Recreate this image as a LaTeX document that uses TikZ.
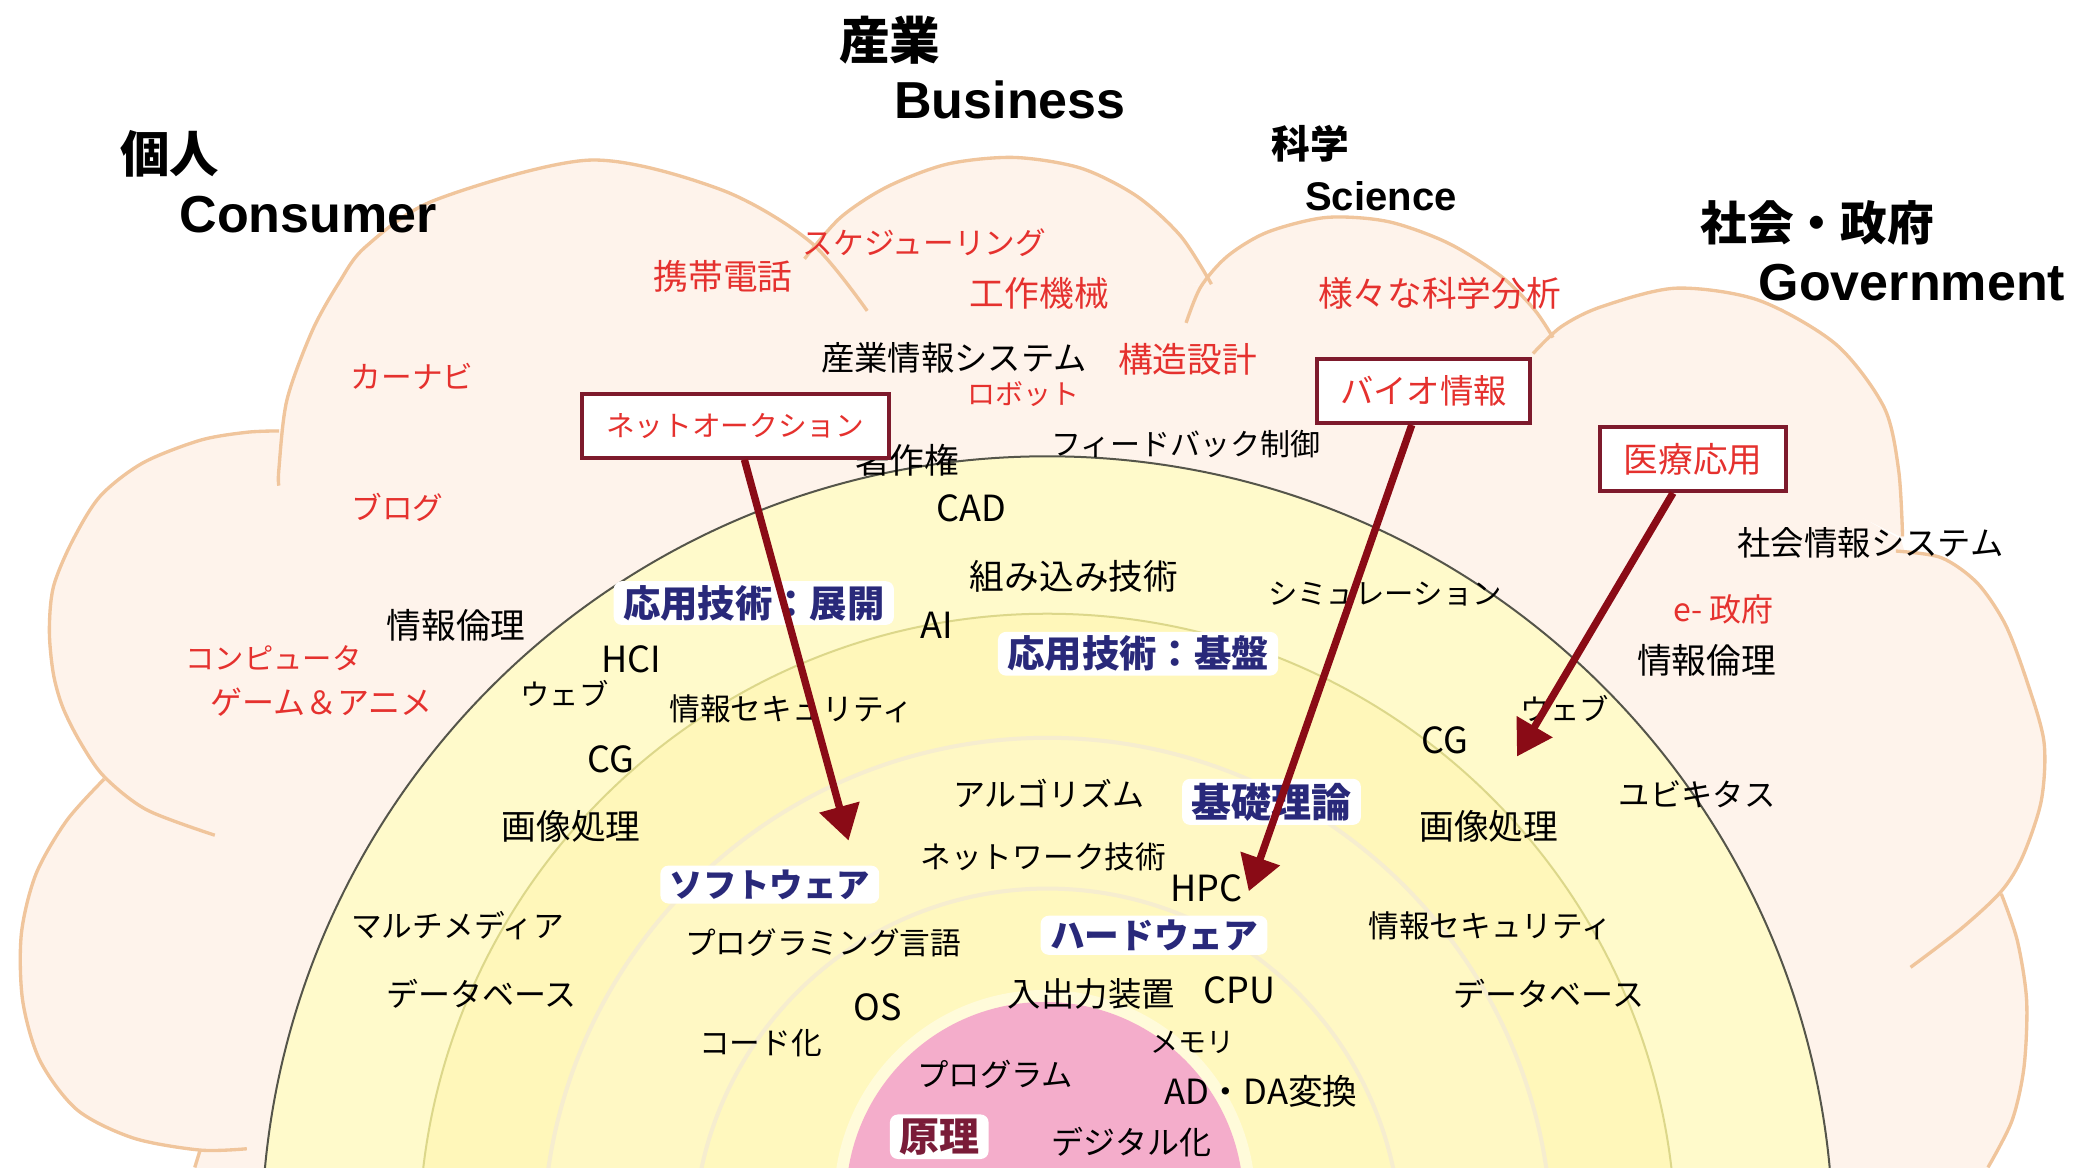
\documentclass[tikz,border=0pt]{standalone}
\usepackage{fontspec}
\setmainfont{Noto Sans CJK JP}
\newfontfamily\jp{Noto Sans CJK JP}
\newfontfamily\en{Liberation Sans}
\usetikzlibrary{arrows.meta}
\definecolor{cloudfill}{HTML}{FEF3EB}
\definecolor{cloudline}{HTML}{F0C59C}
\definecolor{ringA}{HTML}{FFFACB}
\definecolor{ringB}{HTML}{FFF7BA}
\definecolor{ringC}{HTML}{FFF8C4}
\definecolor{ringD}{HTML}{FFF8BE}
\definecolor{ringline}{HTML}{55554A}
\definecolor{ringBline}{HTML}{DCD78A}
\definecolor{ringCline}{HTML}{F6EDCF}
\definecolor{halo}{HTML}{FFFBDA}
\definecolor{pinkc}{HTML}{F4ADCB}
\definecolor{redtxt}{HTML}{E5312E}
\definecolor{navy}{HTML}{29297A}
\definecolor{boxline}{HTML}{7E1A2C}
\definecolor{arrowc}{HTML}{8A0B16}
\definecolor{genri}{HTML}{7A1C38}
\newcommand{\fsz}[1]{\fontsize{#1}{#1}\selectfont}
\begin{document}
\begin{tikzpicture}[x=1pt,y=-1pt,
  every node/.style={inner sep=0pt},
  blk/.style={text=black, font=\jp\fsz{#1}}, blk/.default=24,
  redl/.style={text=redtxt, font=\jp\fsz{#1}}, redl/.default=24,
  bluel/.style={text=navy, font=\jp\bfseries\fsz{#1}, fill=white, rounded corners=6pt, inner xsep=7pt, inner ysep=3pt},
  boxl/.style={draw=boxline, line width=3pt, fill=white, text=redtxt, font=\jp\fsz{#1}, minimum height=48pt},
  ttljp/.style={text=black, font=\jp\bfseries\fsz{#1}},
  ttlen/.style={text=black, font=\en\bfseries\fsz{#1}},
  cloudedge/.style={draw=cloudline, line width=2.5pt},
  cloudpart/.style={fill=cloudfill, draw=cloudfill, line width=2pt, line join=round},
  arr/.style={arrowc, line width=5.5pt, -{Triangle[length=26pt,width=30pt]}}
]
\useasboundingbox (0,0) rectangle (1568,875);
\clip (0,0) rectangle (1568,875);
\fill[white] (0,0) rectangle (1568,875);

% ---- cloud fill ----
\filldraw[cloudpart] (146,875) -- (150,862) -- (78,584) -- (209,323) -- (612,190) -- (905,215) -- (1157,255) -- (1424,405) -- (1500,670) -- (1490,875) -- cycle;
\filldraw[cloudpart] plot[smooth] coordinates {(209,364) (209,352) (215,300) (234,248) (254,212) (274,185) (326,150) (442,120) (540,142) (607,181) (650,233)} -- cycle;
\filldraw[cloudpart] plot[smooth] coordinates {(209,323) (185,324) (150,330) (107,347) (75,372) (54,406) (40,440) (37,473) (40,505) (47,530) (60,556) (78,582) (110,607) (161,626)} -- cycle;
\filldraw[cloudpart] plot[smooth] coordinates {(78,584) (50,615) (27,655) (16,700) (17,750) (30,795) (58,832) (100,853) (150,862) (185,861)} -- cycle;
\filldraw[cloudpart] plot[smooth] coordinates {(603,194) (630,163) (665,140) (710,123) (760,118) (810,126) (852,147) (885,177) (908,213)} -- cycle;
\filldraw[cloudpart] plot[smooth] coordinates {(889,242) (900,215) (920,192) (950,174) (994,163) (1040,166) (1085,182) (1125,207) (1150,232) (1164,253)} -- cycle;
\filldraw[cloudpart] plot[smooth] coordinates {(1149,265) (1170,245) (1200,230) (1256,216) (1318,225) (1376,258) (1412,305) (1423,352) (1426,402)} -- cycle;
\filldraw[cloudpart] plot[smooth] coordinates {(1421,413) (1455,418) (1482,437) (1503,468) (1519,510) (1532,556) (1530,600) (1516,642) (1500,668) (1470,696) (1432,725)} -- cycle;
\filldraw[cloudpart] plot[smooth] coordinates {(1500,670) (1512,705) (1519,750) (1517,800) (1508,840) (1490,875)} -- cycle;

% ---- cloud outline ----
\draw[cloudedge] plot[smooth] coordinates {(209,364) (209,352) (215,300) (234,248) (254,212) (274,185) (326,150) (442,120) (540,142) (607,181) (650,233)};
\draw[cloudedge] plot[smooth] coordinates {(209,323) (185,324) (150,330) (107,347) (75,372) (54,406) (40,440) (37,473) (40,505) (47,530) (60,556) (78,582) (110,607) (161,626)};
\draw[cloudedge] plot[smooth] coordinates {(78,584) (50,615) (27,655) (16,700) (17,750) (30,795) (58,832) (100,853) (150,862) (185,861)};
\draw[cloudedge] (150,862) -- (146,875);
\draw[cloudedge] plot[smooth] coordinates {(603,194) (630,163) (665,140) (710,123) (760,118) (810,126) (852,147) (885,177) (908,213)};
\draw[cloudedge] plot[smooth] coordinates {(889,242) (900,215) (920,192) (950,174) (994,163) (1040,166) (1085,182) (1125,207) (1150,232) (1164,253)};
\draw[cloudedge] plot[smooth] coordinates {(1149,265) (1170,245) (1200,230) (1256,216) (1318,225) (1376,258) (1412,305) (1423,352) (1426,402)};
\draw[cloudedge] plot[smooth] coordinates {(1421,413) (1455,418) (1482,437) (1503,468) (1519,510) (1532,556) (1530,600) (1516,642) (1500,668) (1470,696) (1432,725)};
\draw[cloudedge] plot[smooth] coordinates {(1500,670) (1512,705) (1519,750) (1517,800) (1508,840) (1490,875)};

% ---- concentric rings ----
\coordinate (ctr) at (785,931);
\filldraw[fill=ringA, draw=ringline, line width=1.5pt] (ctr) circle (589pt);
\filldraw[fill=ringB, draw=ringBline, line width=1.5pt] (ctr) circle (471pt);
\filldraw[fill=ringC, draw=ringCline, line width=3pt] (ctr) circle (378pt);
\filldraw[fill=ringD, draw=ringCline, line width=3pt] (ctr) circle (265pt);
\fill[halo] (783,900) circle (158pt);
\fill[pinkc] (783,900) circle (149pt);

% ---- titles ----
\node[ttljp=38] (sangyo) at (667,30) {産業};
\node[ttlen=39] (business) at (757,75) {Business};
\node[ttljp=37] (kojin) at (127,115) {個人};
\node[ttlen=39] (consumer) at (231,161) {Consumer};
\node[ttljp=29] (kagaku) at (982,108) {科学};
\node[ttlen=30] (science) at (1035,147) {Science};
\node[ttljp=35] (shakai) at (1362,167) {社会・政府};
\node[ttlen=39] (govt) at (1433,212) {Government};

% ---- red labels ----
\node[redl=23] (sched) at (693,182) {スケジューリング};
\node[redl=26] (keitai) at (542,207) {携帯電話};
\node[redl=26] (kosaku) at (779,220) {工作機械};
\node[redl=26] (samazama) at (1079,220) {様々な科学分析};
\node[redl=23] (carnavi) at (309,282) {カーナビ};
\node[redl=26] (kozo) at (890,269) {構造設計};
\node[redl=21] (robot) at (767,295) {ロボット};
\node[redl=23] (blog) at (298,380) {ブログ};
\node[redl=22] (comp) at (205,493) {コンピュータ};
\node[redl=24] (game) at (241,526) {ゲーム＆アニメ};
\node[redl=24] (egov) at (1292,457) {e- 政府};

% ---- black labels ----
\node[blk=25] (sangyojoho) at (715,268) {産業情報システム};
\node[blk=26] (chosaku) at (680,345) {著作権};
\node[blk=22.5] (feedback) at (889,333) {フィードバック制御};
\node[blk=27] (cad) at (728,381) {CAD};
\node[blk=26] (kumikomi) at (805,432) {組み込み技術};
\node[blk=22] (simu) at (1038,445) {シミュレーション};
\node[blk=25] (shakaijoho) at (1402,407) {社会情報システム};
\node[blk=26] (rinriL) at (342,469) {情報倫理};
\node[blk=26] (rinriR) at (1279,495) {情報倫理};
\node[blk=27] (hci) at (473,494) {HCI};
\node[blk=27] (ai) at (702,469) {AI};
\node[blk=22] (webL) at (423,520) {ウェブ};
\node[blk=23] (secL) at (593,531) {情報セキュリティ};
\node[blk=22] (webR) at (1173,531) {ウェブ};
\node[blk=27] (cgL) at (458,569) {CG};
\node[blk=27] (cgR) at (1083,555) {CG};
\node[blk=23.5] (ubiq) at (1272,595) {ユビキタス};
\node[blk=24] (algo) at (786,595) {アルゴリズム};
\node[blk=26] (gazoL) at (428,619) {画像処理};
\node[blk=26] (gazoR) at (1116,619) {画像処理};
\node[blk=23] (network) at (782,642) {ネットワーク技術};
\node[blk=27] (hpc) at (904,666) {HPC};
\node[blk=23] (multi) at (343,694) {マルチメディア};
\node[blk=23] (secR) at (1117,694) {情報セキュリティ};
\node[blk=23] (proglang) at (617,707) {プログラミング言語};
\node[blk=24] (dbL) at (361,745) {データベース};
\node[blk=24] (dbR) at (1161,745) {データベース};
\node[blk=25] (io) at (818,745) {入出力装置};
\node[blk=27] (cpu) at (929,742) {CPU};
\node[blk=27] (os) at (658,755) {OS};
\node[blk=23] (code) at (570,782) {コード化};
\node[blk=21] (memory) at (894,781) {メモリ};
\node[blk=23.5] (program) at (746,805) {プログラム};
\node[blk=26] (adda) at (945,818) {AD・DA変換};
\node[blk=24] (digital) at (848,856) {デジタル化};

% ---- layer labels ----
\node[bluel=28] (tenkai) at (565,452) {応用技術：展開};
\node[bluel=28] (kiban) at (853,490) {応用技術：基盤};
\node[bluel=30] (kiso) at (953,601) {基礎理論};
\node[bluel=25] (soft) at (577,663) {ソフトウェア};
\node[bluel=26] (hard) at (865,701) {ハードウェア};
\node[bluel=30, text=genri] (genri) at (704,852) {原理};

% ---- boxes ----
\node[boxl=21.5, minimum width=230pt] (auction) at (551,319) {ネットオークション};
\node[boxl=25, minimum width=160pt] (bio) at (1067,293) {バイオ情報};
\node[boxl=26, minimum width=140pt] (iryo) at (1269,344) {医療応用};

% ---- arrows ----
\coordinate (tipA) at (636,630);
\coordinate (tipB) at (936,668);
\coordinate (tipC) at (1137,567);
\draw[arr] (auction) -- (tipA);
\draw[arr] (bio) -- (tipB);
\draw[arr] (iryo) -- (tipC);
\end{tikzpicture}
\end{document}
